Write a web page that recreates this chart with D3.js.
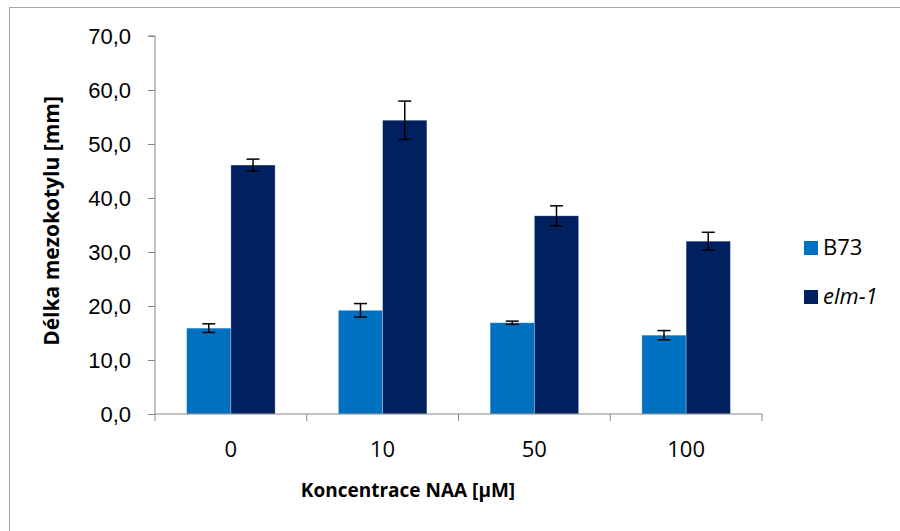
<!DOCTYPE html>
<html>
<head>
<meta charset="utf-8">
<script src="https://cdn.jsdelivr.net/npm/d3@7"></script>
<style>
  html, body { margin: 0; padding: 0; background: #fff; }
  svg { display: block; font-family: "Open Sans", "Noto Sans", sans-serif; }
</style>
</head>
<body>
<svg id="chart" width="900" height="531"></svg>
<script>
// NAA concentrations (µM) and mean mesocotyl length (mm) with error
const categories = ["0", "10", "50", "100"];
const seriesNames = ["B73", "elm-1"];
const b73Values = [15.9, 19.2, 16.9, 14.6];
const b73Errors = [0.8, 1.25, 0.3, 0.85];
const elmValues = [46.1, 54.4, 36.7, 32.0];
const elmErrors = [1.1, 3.55, 1.85, 1.65];
const yTicks = [0, 10, 20, 30, 40, 50, 60, 70];
const colors = ["#0070C0", "#002060"];

const series = [
  { name: seriesNames[0], values: b73Values, errors: b73Errors, color: colors[0] },
  { name: seriesNames[1], values: elmValues, errors: elmErrors, color: colors[1] }
];

const svg = d3.select("#chart");
const plot = { left: 155, right: 762, top: 36, bottom: 414 };

// outer chart frame
svg.append("rect")
  .attr("x", 9.5).attr("y", 7.5)
  .attr("width", 900).attr("height", 540)
  .attr("fill", "none").attr("stroke", "#a6a6a6").attr("stroke-width", 1);

const x = d3.scaleBand().domain(categories).range([plot.left, plot.right]).paddingInner(0).paddingOuter(0);
const xInner = d3.scaleBand().domain(seriesNames).range([0, x.bandwidth()]).paddingOuter(0.715).paddingInner(0);
const y = d3.scaleLinear().domain([0, 70]).range([plot.bottom, plot.top]);

const fmt = v => d3.format(".1f")(v).replace(".", ",");

// y axis
const yAxis = svg.append("g")
  .attr("transform", `translate(${plot.left},0)`)
  .call(d3.axisLeft(y).tickValues(yTicks).tickFormat(fmt).tickSize(7).tickPadding(17));
yAxis.select(".domain").attr("stroke", "#888").attr("d", `M-7,${y(70)}H0V${y(0)}`);
yAxis.selectAll(".tick line").attr("stroke", "#888");
yAxis.selectAll(".tick text").attr("fill", "#000").style("font-size", "22px").attr("dy", "0.36em");

// bars
const groups = svg.append("g").selectAll("g")
  .data(series).join("g").attr("fill", d => d.color);

groups.selectAll("rect")
  .data(s => s.values.map((v, i) => ({ s, v, i })))
  .join("rect")
  .attr("x", d => x(categories[d.i]) + xInner(d.s.name))
  .attr("y", d => y(d.v))
  .attr("width", xInner.bandwidth())
  .attr("height", d => y(0) - y(d.v))
  .attr("stroke", "rgba(255,255,255,0.35)")
  .attr("stroke-width", 0.8);

// x axis
const xAxisG = svg.append("g")
  .attr("transform", `translate(0,${plot.bottom})`);
xAxisG.append("path")
  .attr("d", `M${plot.left},0H${plot.right}`)
  .attr("stroke", "#888").attr("fill", "none");
const tickXs = categories.map(c => x(c)).concat([x(categories[categories.length - 1]) + x.bandwidth()]);
xAxisG.selectAll("line.tk").data(tickXs).join("line")
  .attr("class", "tk")
  .attr("x1", d => d).attr("x2", d => d)
  .attr("y1", 0).attr("y2", 7)
  .attr("stroke", "#888");
xAxisG.selectAll("text").data(categories).join("text")
  .attr("x", d => x(d) + x.bandwidth() / 2)
  .attr("y", 43)
  .attr("text-anchor", "middle")
  .style("font-size", "22px")
  .text(d => d);

// error bars
const errG = svg.append("g").attr("stroke", "#000").attr("stroke-width", 1.5).attr("fill", "none");
series.forEach(s => {
  s.values.forEach((v, i) => {
    const cx = x(categories[i]) + xInner(s.name) + xInner.bandwidth() / 2;
    const y1 = y(v + s.errors[i]), y2 = y(v - s.errors[i]);
    errG.append("line").attr("x1", cx).attr("x2", cx).attr("y1", y1).attr("y2", y2);
    errG.append("line").attr("x1", cx - 6.5).attr("x2", cx + 6.5).attr("y1", y1).attr("y2", y1);
    errG.append("line").attr("x1", cx - 6.5).attr("x2", cx + 6.5).attr("y1", y2).attr("y2", y2);
  });
});

// axis titles
svg.append("text")
  .attr("x", 408)
  .attr("y", 497)
  .attr("text-anchor", "middle")
  .style("font-size", "19px").style("font-weight", "bold")
  .text("Koncentrace NAA [µM]");

svg.append("text")
  .attr("transform", `translate(59,${(plot.top + plot.bottom) / 2 - 4}) rotate(-90)`)
  .attr("text-anchor", "middle")
  .style("font-size", "21px").style("font-weight", "bold")
  .text("Délka mezokotylu [mm]");

// legend
const legend = svg.append("g");
series.forEach((s, i) => {
  const ly = 241 + i * 49;
  legend.append("rect").attr("x", 804).attr("y", ly).attr("width", 14).attr("height", 14).attr("fill", s.color);
  legend.append("text").attr("x", 823).attr("y", ly + 14)
    .style("font-size", "22px")
    .style("font-style", i === 1 ? "italic" : "normal")
    .text(s.name);
});
</script>
</body>
</html>
